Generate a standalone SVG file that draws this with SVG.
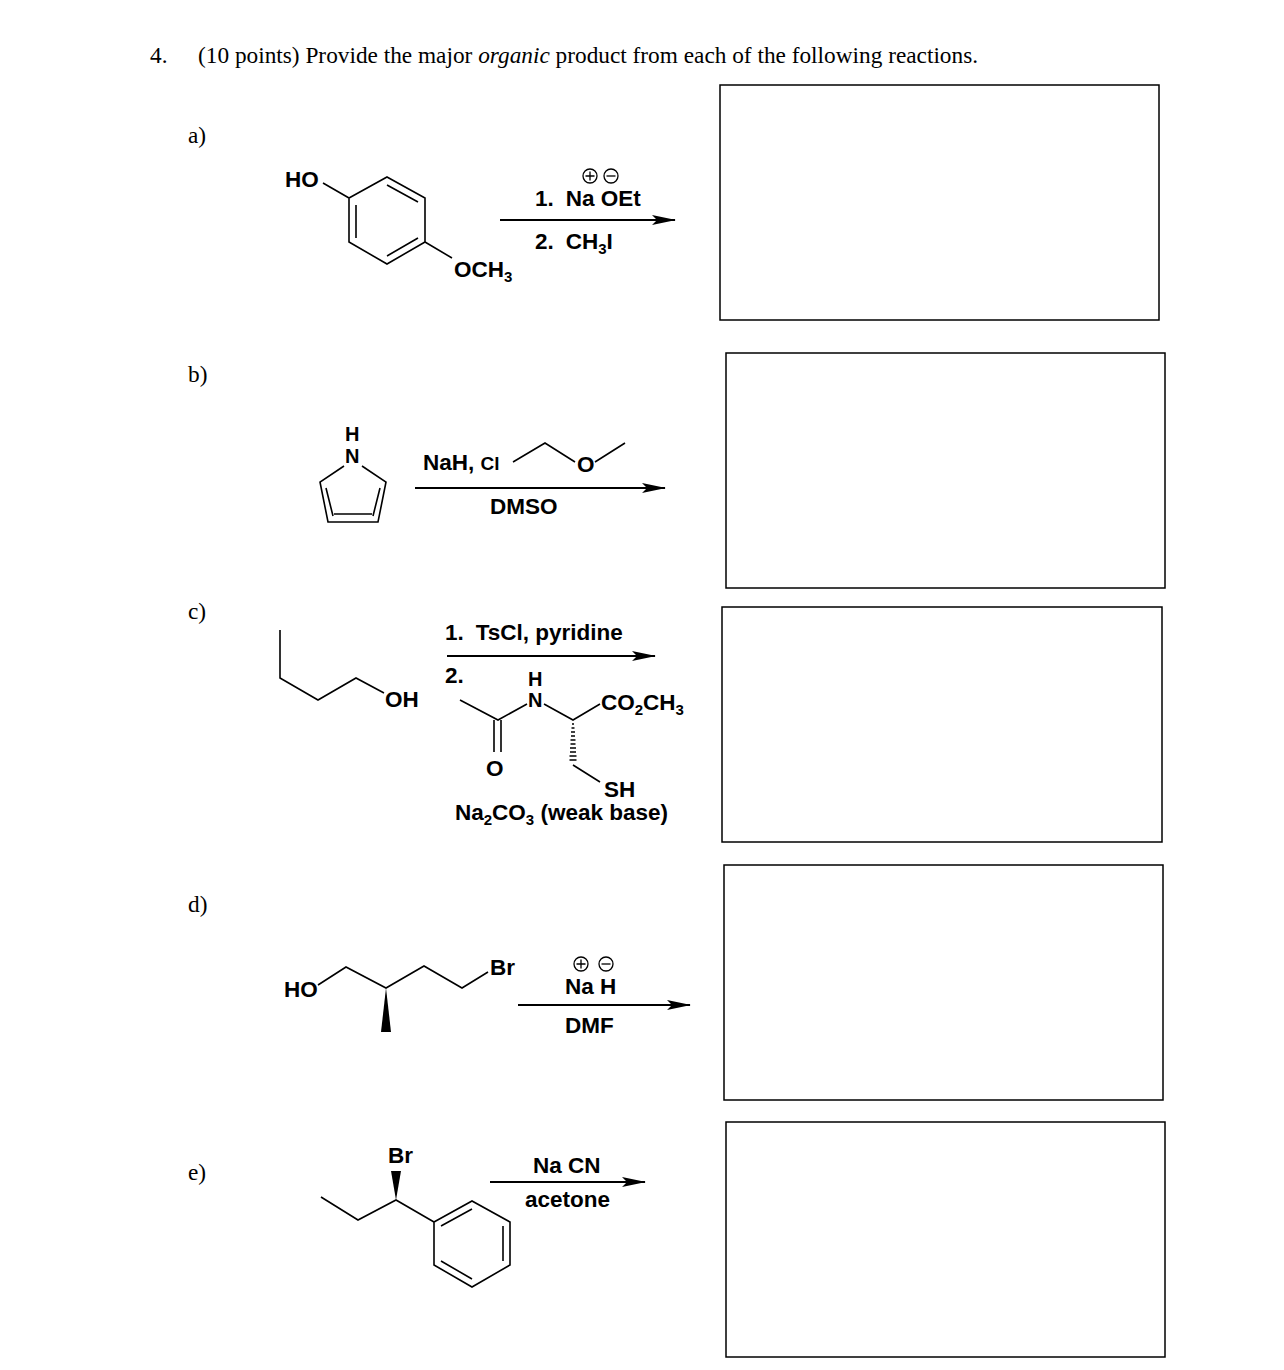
<svg xmlns="http://www.w3.org/2000/svg" width="1284" height="1370" viewBox="0 0 1284 1370">
<defs><marker id="ah" markerWidth="24" markerHeight="10" refX="23" refY="5" orient="auto" markerUnits="userSpaceOnUse"><path d="M0,0 L24,5 L0,10 L5,5 z" fill="#000"/></marker></defs>
<style>
.t{font-family:"Liberation Serif",serif;font-size:23.3px}
.s{font-family:"Liberation Sans",Arial,sans-serif;font-size:22.5px;font-weight:bold}
.h{font-family:"Liberation Sans",Arial,sans-serif;font-size:20px;font-weight:bold}
.b{fill:none;stroke:#000;stroke-width:1.6}
.box{fill:none;stroke:#000;stroke-width:1.5}
.ar{stroke:#000;stroke-width:2;marker-end:url(#ah)}
.c{fill:none;stroke:#000;stroke-width:1.3}
</style>
<rect width="1284" height="1370" fill="#fff"/>
<text class="t" x="150" y="63">4.</text>
<text class="t" x="198" y="63">(10 points) Provide the major <tspan font-style="italic">organic</tspan> product from each of the following reactions.</text>
<text class="t" x="188" y="143">a)</text>
<text class="t" x="188" y="382">b)</text>
<text class="t" x="188" y="619">c)</text>
<text class="t" x="188" y="912">d)</text>
<text class="t" x="188" y="1180">e)</text>
<g id="boxes">
<rect class="box" x="720" y="85" width="439" height="235"/>
<rect class="box" x="726" y="353" width="439" height="235"/>
<rect class="box" x="722" y="607" width="440" height="235"/>
<rect class="box" x="724" y="865" width="439" height="235"/>
<rect class="box" x="726" y="1122" width="439" height="235"/>
</g>
<g id="mol-a">
<path class="b" d="M387,177 L425,198 L425,242 L387,264 L349,242 L349,198 Z M387,185 L418,202 M356,205 L356,238 M387,256 L418,238 M349,198 L323,183 M425,242 L452,258"/>
<text class="s" x="285" y="187">HO</text>
<text class="s" x="454" y="277">OCH<tspan font-size="15" dy="5">3</tspan></text>
</g>
<g id="mol-b">
<text class="h" x="345" y="441">H</text>
<text class="h" x="345" y="463">N</text>
<path class="b" d="M344,466 L320,482 L328,522 L378,522 L386,482 L362,466 M326,488 L333,516 M380,488 L373,516 M334,514 L372,514"/>
</g>
<g id="mol-c">
<path class="b" d="M280,630 L280,678 L318,700 L356,678 L384,693"/>
<text class="s" x="385" y="707">OH</text>
</g>
<g id="mol-d">
<text class="s" x="284" y="997">HO</text>
<path class="b" d="M318,985 L346,967 L386,988 L424,966 L462,988 L488,972"/>
<polygon points="386,988 381,1032 391,1032" fill="#000"/>
<text class="s" x="490" y="975">Br</text>
</g>
<g id="mol-e">
<text class="s" x="388" y="1163">Br</text>
<polygon points="396,1200 391,1171 401,1171" fill="#000"/>
<path class="b" d="M321,1197 L358,1220 L396,1200 L434,1222"/>
<path class="b" d="M434,1222 L472,1201 L510,1222 L510,1265 L472,1287 L434,1265 Z M441,1226 L472,1209 M503,1226 L503,1261 M441,1261 L472,1279"/>
</g>
<g id="connectors">
<line class="ar" x1="500" y1="220" x2="675" y2="220"/>
<line class="ar" x1="415" y1="488" x2="665" y2="488"/>
<line class="ar" x1="447" y1="656" x2="655" y2="656"/>
<line class="ar" x1="518" y1="1005" x2="690" y2="1005"/>
<line class="ar" x1="490" y1="1182" x2="645" y2="1182"/>
</g>
<g id="reagents">
<circle class="c" cx="590" cy="176" r="7"/><path class="c" d="M585.5,176 h9 M590,171.5 v9"/>
<circle class="c" cx="611" cy="176" r="7"/><path class="c" d="M606.5,176 h9"/>
<text class="s" x="535" y="206">1.<tspan dx="12">Na OEt</tspan></text>
<text class="s" x="535" y="249">2.<tspan dx="12">CH</tspan><tspan font-size="15" dy="5">3</tspan><tspan dy="-5">I</tspan></text>
<text class="s" x="423" y="470">NaH, <tspan font-size="19">Cl</tspan></text>
<path class="b" d="M513,462 L545,443 L575,462 M595,462 L625,443"/>
<text class="s" x="577" y="472" font-size="19">O</text>
<text class="s" x="490" y="514">DMSO</text>
<text class="s" x="445" y="640">1.<tspan dx="12">TsCl, pyridine</tspan></text>
<text class="s" x="445" y="683">2.</text>
<path class="b" d="M460,700 L498,720 L527,704 M494,720 L494,752 M501,720 L501,752 M544,704 L573,720 L600,704 M573,765 L600,782"/>
<g stroke="#000" stroke-width="1.3"><path d="M572,724h2M571.5,728h3M571,732h4M571,736h4M570.5,740h5M570.5,744h5M570,748h6M570,752h6M569.5,756h7M569.5,760h7"/></g>
<text class="h" x="528" y="686">H</text>
<text class="h" x="528" y="707">N</text>
<text class="s" x="486" y="776">O</text>
<text class="s" x="601" y="710">CO<tspan font-size="15" dy="5">2</tspan><tspan dy="-5">CH</tspan><tspan font-size="15" dy="5">3</tspan></text>
<text class="s" x="604" y="797">SH</text>
<text class="s" x="455" y="820">Na<tspan font-size="15" dy="5">2</tspan><tspan dy="-5">CO</tspan><tspan font-size="15" dy="5">3</tspan><tspan dy="-5"> (weak base)</tspan></text>
<circle class="c" cx="581" cy="964" r="7"/><path class="c" d="M576.5,964 h9 M581,959.5 v9"/>
<circle class="c" cx="606" cy="964" r="7"/><path class="c" d="M601.5,964 h9"/>
<text class="s" x="565" y="994">Na H</text>
<text class="s" x="565" y="1033">DMF</text>
<text class="s" x="533" y="1173">Na CN</text>
<text class="s" x="525" y="1207">acetone</text>
</g>
</svg>
